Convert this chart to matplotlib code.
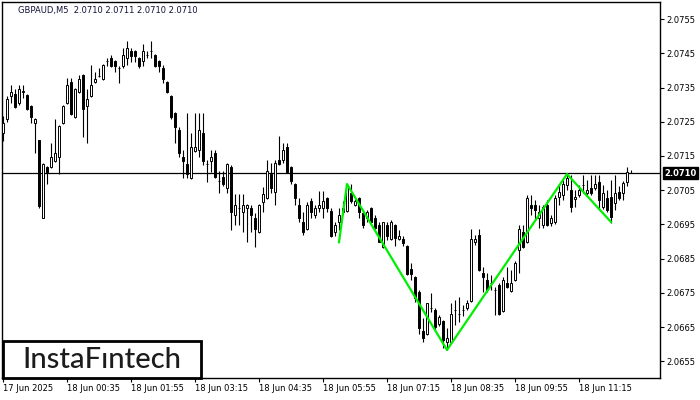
import matplotlib
matplotlib.use('Agg')
import matplotlib.pyplot as plt
from matplotlib.patches import Rectangle

# GBPAUD M5 candles (17 Jun 23:15 -> 18 Jun 12:20)
opens = [2.07217, 2.07258, 2.07325, 2.07331, 2.07305, 2.07337, 2.07328, 2.07296, 2.07246, 2.07197,
         2.06969, 2.07118, 2.07118, 2.07135, 2.07147, 2.07246, 2.07305, 2.07366, 2.07264, 2.07337,
         2.07387, 2.07296, 2.07325, 2.07366, 2.07384, 2.07375, 2.07428, 2.07436, 2.07428, 2.07407,
         2.07413, 2.07436, 2.07457, 2.07457, 2.07436, 2.07428, 2.07445, 2.07457, 2.07445, 2.07428,
         2.07407, 2.07366, 2.07325, 2.07276, 2.07226, 2.07147, 2.07126, 2.07086, 2.07164, 2.07167,
         2.07217, 2.07126, 2.07135, 2.07159, 2.07077, 2.07088, 2.07056, 2.07118, 2.06977, 2.06998,
         2.06986, 2.06998, 2.06998, 2.06969, 2.06928, 2.07015, 2.07027, 2.07097, 2.07045, 2.07138,
         2.07138, 2.07176, 2.07118, 2.07068, 2.07007, 2.06957, 2.06936, 2.07018, 2.06977, 2.06998,
         2.06998, 2.07027, 2.06989, 2.06928, 2.06957, 2.06986, 2.06989, 2.07042, 2.07007, 2.07027,
         2.06983, 2.06969, 2.06998, 2.06969, 2.06948, 2.06884, 2.06948, 2.06907, 2.06948, 2.06907,
         2.06907, 2.06887, 2.06819, 2.06796, 2.06752, 2.06638, 2.06629, 2.06705, 2.06700, 2.06659,
         2.06667, 2.06606, 2.06606, 2.06700, 2.06688, 2.06700, 2.06705, 2.06726, 2.06898, 2.06919,
         2.06808, 2.06787, 2.06779, 2.06758, 2.06773, 2.06697, 2.06779, 2.06755, 2.06787, 2.06875,
         2.06928, 2.06898, 2.07007, 2.07007, 2.06969, 2.06948, 2.07007, 2.06954, 2.06957, 2.07030,
         2.07036, 2.07065, 2.07050, 2.07024, 2.07036, 2.07065, 2.07042, 2.07056, 2.07056, 2.07074,
         2.07001, 2.07027, 2.07030, 2.07012, 2.07045, 2.07042, 2.07074, 2.07100]
highs = [2.07267, 2.07325, 2.07357, 2.07346, 2.07357, 2.07357, 2.07331, 2.07299, 2.07261, 2.07197,
         2.07129, 2.07121, 2.07188, 2.07258, 2.07240, 2.07299, 2.07378, 2.07378, 2.07349, 2.07387,
         2.07390, 2.07346, 2.07416, 2.07395, 2.07407, 2.07419, 2.07436, 2.07445, 2.07431, 2.07413,
         2.07466, 2.07486, 2.07466, 2.07460, 2.07439, 2.07477, 2.07457, 2.07486, 2.07448, 2.07431,
         2.07416, 2.07369, 2.07328, 2.07279, 2.07235, 2.07167, 2.07276, 2.07217, 2.07276, 2.07276,
         2.07276, 2.07138, 2.07167, 2.07167, 2.07106, 2.07106, 2.07129, 2.07124, 2.07039, 2.07039,
         2.07039, 2.07010, 2.07007, 2.06983, 2.07010, 2.07059, 2.07138, 2.07129, 2.07138, 2.07208,
         2.07188, 2.07188, 2.07121, 2.07071, 2.07027, 2.06986, 2.07015, 2.07027, 2.07007, 2.07048,
         2.07048, 2.07030, 2.06998, 2.06957, 2.06998, 2.07018, 2.07068, 2.07068, 2.07024, 2.07030,
         2.06986, 2.06992, 2.07001, 2.06977, 2.06957, 2.06957, 2.06957, 2.06963, 2.06951, 2.06933,
         2.06916, 2.06890, 2.06837, 2.06799, 2.06758, 2.06676, 2.06720, 2.06749, 2.06705, 2.06685,
         2.06670, 2.06647, 2.06720, 2.06729, 2.06738, 2.06714, 2.06729, 2.06936, 2.06919, 2.06936,
         2.06825, 2.06808, 2.06802, 2.06767, 2.06779, 2.06796, 2.06825, 2.06817, 2.06843, 2.06948,
         2.06948, 2.07036, 2.07036, 2.07021, 2.07007, 2.07007, 2.07021, 2.06977, 2.07036, 2.07065,
         2.07080, 2.07097, 2.07094, 2.07050, 2.07065, 2.07094, 2.07080, 2.07094, 2.07094, 2.07094,
         2.07065, 2.07050, 2.07080, 2.07094, 2.07062, 2.07077, 2.07118, 2.07110]
lows = [2.07194, 2.07249, 2.07305, 2.07290, 2.07299, 2.07319, 2.07284, 2.07246, 2.07159, 2.06998,
        2.06969, 2.07068, 2.07115, 2.07132, 2.07097, 2.07243, 2.07302, 2.07270, 2.07261, 2.07334,
        2.07205, 2.07188, 2.07322, 2.07363, 2.07381, 2.07372, 2.07413, 2.07410, 2.07395, 2.07363,
        2.07407, 2.07416, 2.07425, 2.07425, 2.07407, 2.07413, 2.07436, 2.07436, 2.07410, 2.07395,
        2.07363, 2.07334, 2.07258, 2.07188, 2.07147, 2.07086, 2.07086, 2.07083, 2.07162, 2.07147,
        2.07124, 2.07074, 2.07103, 2.07086, 2.07042, 2.07062, 2.07042, 2.06933, 2.06948, 2.06948,
        2.06928, 2.06898, 2.06928, 2.06884, 2.06925, 2.06986, 2.07024, 2.07042, 2.07007, 2.07124,
        2.07129, 2.07100, 2.07068, 2.07007, 2.06957, 2.06919, 2.06933, 2.06969, 2.06969, 2.06986,
        2.06969, 2.06986, 2.06913, 2.06916, 2.06933, 2.06980, 2.06986, 2.07012, 2.07004, 2.06969,
        2.06939, 2.06957, 2.06957, 2.06936, 2.06898, 2.06881, 2.06904, 2.06904, 2.06887, 2.06904,
        2.06887, 2.06802, 2.06787, 2.06723, 2.06629, 2.06606, 2.06626, 2.06694, 2.06641, 2.06653,
        2.06588, 2.06583, 2.06603, 2.06656, 2.06664, 2.06682, 2.06700, 2.06723, 2.06890, 2.06814,
        2.06752, 2.06752, 2.06758, 2.06685, 2.06685, 2.06694, 2.06764, 2.06752, 2.06784, 2.06808,
        2.06881, 2.06895, 2.06977, 2.06963, 2.06939, 2.06939, 2.06945, 2.06945, 2.06951, 2.07007,
        2.07021, 2.07050, 2.06986, 2.07001, 2.07030, 2.07042, 2.07036, 2.07036, 2.07050, 2.06992,
        2.06995, 2.06986, 2.06954, 2.06992, 2.07021, 2.07021, 2.07062, 2.07100]
closes = [2.07246, 2.07317, 2.07337, 2.07293, 2.07346, 2.07340, 2.07287, 2.07264, 2.07258, 2.07004,
          2.07126, 2.07103, 2.07147, 2.07159, 2.07238, 2.07296, 2.07357, 2.07273, 2.07346, 2.07375,
          2.07287, 2.07317, 2.07357, 2.07375, 2.07384, 2.07416, 2.07428, 2.07413, 2.07413, 2.07407,
          2.07445, 2.07466, 2.07442, 2.07442, 2.07413, 2.07457, 2.07445, 2.07457, 2.07413, 2.07413,
          2.07375, 2.07337, 2.07264, 2.07235, 2.07159, 2.07135, 2.07097, 2.07176, 2.07176, 2.07226,
          2.07135, 2.07126, 2.07147, 2.07088, 2.07077, 2.07068, 2.07126, 2.06986, 2.07007, 2.06998,
          2.07007, 2.07007, 2.06977, 2.06936, 2.07007, 2.07039, 2.07106, 2.07056, 2.07129, 2.07126,
          2.07167, 2.07103, 2.07077, 2.07027, 2.06969, 2.06928, 2.07007, 2.06986, 2.06998, 2.07007,
          2.07018, 2.06998, 2.06916, 2.06948, 2.06977, 2.06998, 2.07065, 2.07018, 2.07018, 2.06986,
          2.06948, 2.06986, 2.06957, 2.06939, 2.06898, 2.06957, 2.06916, 2.06957, 2.06910, 2.06916,
          2.06895, 2.06805, 2.06805, 2.06735, 2.06647, 2.06618, 2.06720, 2.06705, 2.06650, 2.06679,
          2.06612, 2.06618, 2.06688, 2.06700, 2.06688, 2.06700, 2.06720, 2.06907, 2.06907, 2.06817,
          2.06796, 2.06758, 2.06779, 2.06758, 2.06688, 2.06787, 2.06767, 2.06779, 2.06837, 2.06936,
          2.06884, 2.07027, 2.06998, 2.06992, 2.06986, 2.07001, 2.06948, 2.06969, 2.07027, 2.07045,
          2.07068, 2.07086, 2.07001, 2.07030, 2.07050, 2.07065, 2.07050, 2.07042, 2.07068, 2.07021,
          2.07042, 2.06992, 2.06971, 2.07042, 2.07027, 2.07071, 2.07103, 2.07100]

time_labels = ['17 Jun 2025', '18 Jun 00:35', '18 Jun 01:55', '18 Jun 03:15', '18 Jun 04:35',
               '18 Jun 05:55', '18 Jun 07:15', '18 Jun 08:35', '18 Jun 09:55', '18 Jun 11:15']
bars_per_label = 16

price_ticks = [2.0655, 2.0665, 2.0675, 2.0685, 2.0695, 2.0705, 2.0715, 2.0725, 2.0735, 2.0745, 2.0755]

# pattern line drawn over the candles
pattern_bars = [84, 86, 111, 141, 152]
pattern_prices = [2.06898, 2.07068, 2.06583, 2.07097, 2.06957]

last_price = 2.0710
title = 'GBPAUD,M5  2.0710 2.0711 2.0710 2.0710'

fig = plt.figure(figsize=(7, 4), dpi=100)
ax = fig.add_axes([2 / 700, 22 / 400, 658 / 700, 376 / 400])

x = list(range(len(opens)))
ax.vlines(x, lows, highs, color='black', linewidth=0.8, zorder=2)
bottoms = [min(o, c) for o, c in zip(opens, closes)]
heights = [abs(c - o) for o, c in zip(opens, closes)]
colors = ['white' if c >= o else 'black' for o, c in zip(opens, closes)]
ax.bar(x, heights, width=0.6, bottom=bottoms, color=colors, edgecolor='black', linewidth=0.7, zorder=3)

ax.plot(pattern_bars, pattern_prices, color='#00ee00', linewidth=1.6, zorder=4)
ax.axhline(last_price, color='black', linewidth=0.9, zorder=1)

ax.set_xlim(-0.25, 164.25)
ax.set_ylim(2.06501, 2.07600)

ax.yaxis.tick_right()
ax.set_yticks(price_ticks)
ax.set_yticklabels(['%.4f' % p for p in price_ticks])
ax.set_xticks([i * bars_per_label for i in range(len(time_labels))])
ax.set_xticklabels(time_labels, ha='left')
ax.tick_params(axis='both', labelsize=6, length=3, width=0.8, pad=1.5, colors='black')
for s in ax.spines.values():
    s.set_linewidth(1)

# current price box on the right scale
ax.annotate('%.4f' % last_price, xy=(1.0, last_price), xycoords=('axes fraction', 'data'),
            xytext=(3, 0), textcoords='offset points', va='center', ha='left',
            fontsize=6, color='white', fontweight='bold',
            bbox=dict(boxstyle='square,pad=0.2', facecolor='black', edgecolor='black'))

fig.text(18 / 700, 1 - 10 / 400, title, fontsize=6, color='#10103a', va='center')

# logo
fig.patches.append(Rectangle((3 / 700, 22 / 400), 198 / 700, 37 / 400, transform=fig.transFigure,
                             facecolor='white', edgecolor='black', linewidth=2, zorder=5))
fig.text(102 / 700, 40 / 400, 'InstaF\u0131ntech', fontsize=21, family='Lato', fontweight='medium',
         color='#1c1c1c', ha='center', va='center', zorder=6)

fig.savefig('out.png', dpi=100)
